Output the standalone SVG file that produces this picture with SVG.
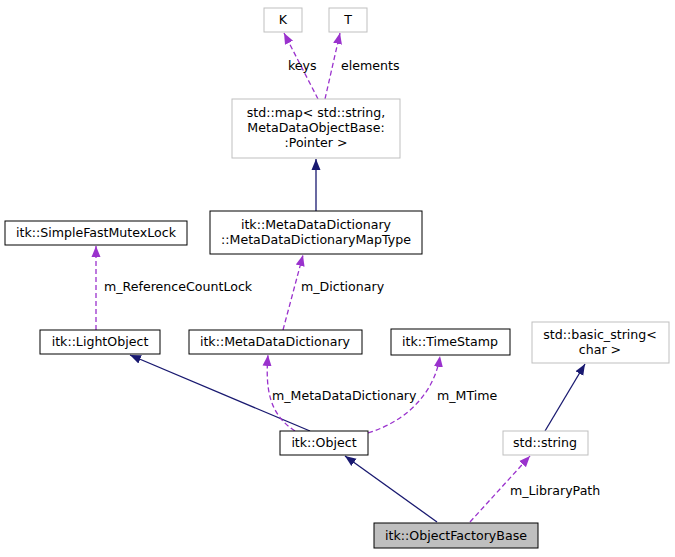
<svg xmlns="http://www.w3.org/2000/svg" width="675" height="557" viewBox="0 0 675 557">
<style>
text{font-family:"DejaVu Sans",sans-serif;font-size:12.6px;fill:#000}
.n{fill:#fff;stroke:#000;stroke-width:1}
.g{fill:#fff;stroke:#bfbfbf;stroke-width:1}
.s{fill:none;stroke:#191970;stroke-width:1.3}
.d{fill:none;stroke:#9a32cd;stroke-width:1.3;stroke-dasharray:5,3}
</style>
<defs>
<marker id="ah" markerWidth="12" markerHeight="12" refX="11" refY="5.5" orient="auto" markerUnits="userSpaceOnUse"><path d="M0,1 L11,5.5 L0,10 z" fill="#191970"/></marker>
<marker id="ap" markerWidth="12" markerHeight="12" refX="11" refY="5.5" orient="auto" markerUnits="userSpaceOnUse"><path d="M0,1 L11,5.5 L0,10 z" fill="#9a32cd"/></marker>
</defs>
<g id="edges">
<path class="d" d="M318,99 L284,33" marker-end="url(#ap)"/>
<text x="288" y="70">keys</text>
<path class="d" d="M325,99 L340,33" marker-end="url(#ap)"/>
<text x="341" y="70">elements</text>
<path class="s" d="M316,211 L316,159" marker-end="url(#ah)"/>
<path class="d" d="M96,330 L96,246" marker-end="url(#ap)"/>
<text x="104" y="291">m_ReferenceCountLock</text>
<path class="d" d="M283,330 L303,255" marker-end="url(#ap)"/>
<text x="301" y="291">m_Dictionary</text>
<path class="s" d="M310,431 L130,355" marker-end="url(#ah)"/>
<path class="d" d="M295,431 C270,415 265,390 268,355" marker-end="url(#ap)"/>
<text x="272" y="400">m_MetaDataDictionary</text>
<path class="d" d="M368,433 C410,420 435,390 440,356" marker-end="url(#ap)"/>
<text x="437" y="400">m_MTime</text>
<path class="s" d="M545,431 L585,364" marker-end="url(#ah)"/>
<path class="s" d="M437,522 L345,456" marker-end="url(#ah)"/>
<path class="d" d="M470,522 L530,456" marker-end="url(#ap)"/>
<text x="510" y="495">m_LibraryPath</text>
</g>
<g id="K"><rect class="g" x="264" y="8" width="38" height="24"/><text x="283" y="24" text-anchor="middle">K</text></g>
<g id="T"><rect class="g" x="329" y="8" width="38" height="24"/><text x="348" y="24" text-anchor="middle">T</text></g>
<g id="map"><rect class="g" x="232" y="99" width="168" height="59"/><text x="316" y="117" text-anchor="middle">std::map&lt; std::string,</text><text x="316" y="132" text-anchor="middle"> MetaDataObjectBase:</text><text x="316" y="147" text-anchor="middle">:Pointer &gt;</text></g>
<g id="maptype"><rect class="n" x="210" y="211" width="212" height="43"/><text x="316" y="229" text-anchor="middle">itk::MetaDataDictionary</text><text x="316" y="244" text-anchor="middle">::MetaDataDictionaryMapType</text></g>
<g id="mutex"><rect class="n" x="5" y="221" width="182" height="24"/><text x="96" y="237" text-anchor="middle">itk::SimpleFastMutexLock</text></g>
<g id="light"><rect class="n" x="40" y="330" width="120" height="24"/><text x="100" y="346" text-anchor="middle">itk::LightObject</text></g>
<g id="mdd"><rect class="n" x="189" y="330" width="173" height="24"/><text x="275" y="346" text-anchor="middle">itk::MetaDataDictionary</text></g>
<g id="ts"><rect class="n" x="391" y="329" width="119" height="26"/><text x="450" y="346" text-anchor="middle">itk::TimeStamp</text></g>
<g id="bstr"><rect class="g" x="532" y="322" width="137" height="41"/><text x="600" y="339" text-anchor="middle">std::basic_string&lt;</text><text x="600" y="354" text-anchor="middle">char &gt;</text></g>
<g id="obj"><rect class="n" x="280" y="431" width="88" height="24"/><text x="324" y="447" text-anchor="middle">itk::Object</text></g>
<g id="str"><rect class="g" x="503" y="431" width="85" height="24"/><text x="545" y="447" text-anchor="middle">std::string</text></g>
<g id="ofb"><rect x="374" y="523" width="164" height="25" fill="#bfbfbf" stroke="#000"/><text x="456" y="540" text-anchor="middle">itk::ObjectFactoryBase</text></g>
</svg>
